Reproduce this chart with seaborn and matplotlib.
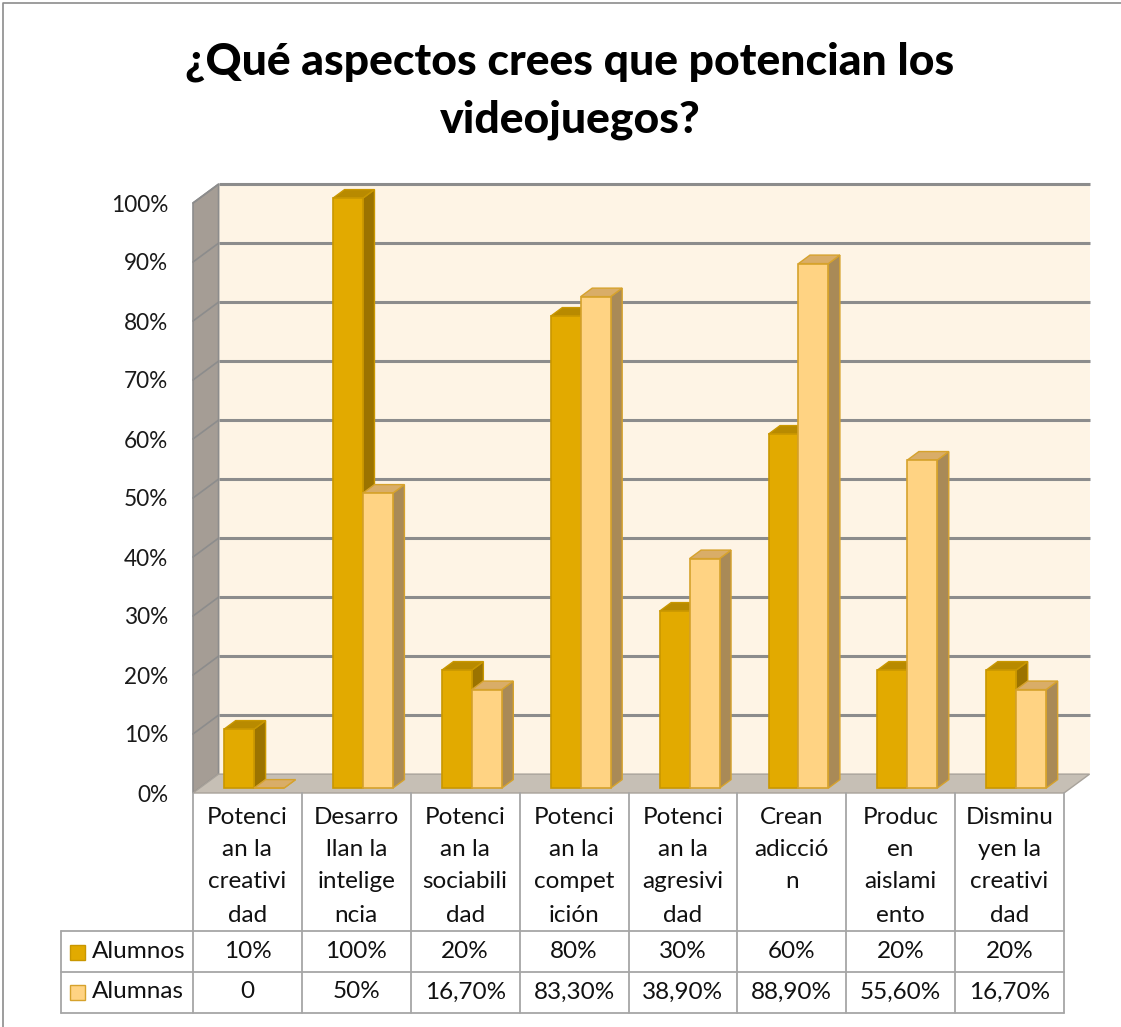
import numpy as np
import pandas as pd
import matplotlib
matplotlib.use("Agg")
import matplotlib.pyplot as plt
from matplotlib.patches import Polygon, Rectangle
import seaborn as sns

# data
categorias = ["Potencian la creatividad", "Desarrollan la inteligencia",
              "Potencian la sociabilidad", "Potencian la competición",
              "Potencian la agresividad", "Crean adicción",
              "Producen aislamiento", "Disminuyen la creatividad"]
# labels as wrapped in the data table
cat_lineas = [["Potenci", "an la", "creativi", "dad"],
              ["Desarro", "llan la", "intelige", "ncia"],
              ["Potenci", "an la", "sociabili", "dad"],
              ["Potenci", "an la", "compet", "ición"],
              ["Potenci", "an la", "agresivi", "dad"],
              ["Crean", "adicció", "n"],
              ["Produc", "en", "aislami", "ento"],
              ["Disminu", "yen la", "creativi", "dad"]]
alumnos = [10, 100, 20, 80, 30, 60, 20, 20]
alumnas = [0, 50, 16.7, 83.3, 38.9, 88.9, 55.6, 16.7]
alumnos_txt = ["10%", "100%", "20%", "80%", "30%", "60%", "20%", "20%"]
alumnas_txt = ["0", "50%", "16,70%", "83,30%", "38,90%", "88,90%", "55,60%", "16,70%"]
series = ["Alumnos", "Alumnas"]
yticks = [0, 10, 20, 30, 40, 50, 60, 70, 80, 90, 100]

df = pd.DataFrame({
    "cat": categorias * 2,
    "serie": ["Alumnos"] * 8 + ["Alumnas"] * 8,
    "valor": [v / 100 for v in alumnos + alumnas],
})

# colours (front, side, top)
col_front = {"Alumnos": "#E2AA00", "Alumnas": "#FFD383"}
col_side = {"Alumnos": "#9B7300", "Alumnas": "#A98A57"}
col_top = {"Alumnos": "#B88A00", "Alumnas": "#D9AD68"}
col_edge = {"Alumnos": "#C99700", "Alumnas": "#D6A22C"}

sns.set_style("white")
plt.rcParams["font.family"] = ["Lato", "DejaVu Sans"]

W, H = 1121, 1027
fig = plt.figure(figsize=(W / 100, H / 100), dpi=100)
fig.patch.set_facecolor("white")

# main axes in pixel placement
L, R, B, T = 193, 1064, 793, 203
ax = fig.add_axes([L / W, (H - B) / H, (R - L) / W, (B - T) / H])
ax.patch.set_alpha(0)

sns.barplot(data=df, x="cat", y="valor", hue="serie", hue_order=series,
            palette=col_front, saturation=1, width=0.55, dodge=True, legend=False,
            edgecolor="none", linewidth=0, ax=ax, zorder=3)
ax.set_xlim(-0.5, 7.5)
ax.set_ylim(0, 1)

# pseudo 3d depth
DX, DY = 0.235, 0.032
f0, f1 = 0.26, 0.45  # front offset and bar depth fractions

# walls and floor
ax.add_patch(Polygon([(-0.5 + DX, DY), (7.5 + DX, DY), (7.5 + DX, 1 + DY), (-0.5 + DX, 1 + DY)],
                     closed=True, facecolor="#FEF4E5", edgecolor="none", zorder=0.5, clip_on=False))
ax.add_patch(Polygon([(-0.5, 0), (-0.5 + DX, DY), (-0.5 + DX, 1 + DY), (-0.5, 1.0)],
                     closed=True, facecolor="#A59D95", edgecolor="#8C8C8C", lw=1.2, zorder=0.8, clip_on=False))
ax.add_patch(Polygon([(-0.5, 0), (7.5, 0), (7.5 + DX, DY), (-0.5 + DX, DY)],
                     closed=True, facecolor="#C6BFB5", edgecolor="#A8A29A", lw=1.0, zorder=0.9, clip_on=False))
for t in yticks[1:]:
    y = t / 100
    ax.plot([-0.5 + DX, 7.5 + DX], [y + DY, y + DY], color="#8C8C8C", lw=2.2, zorder=0.6,
            clip_on=False, solid_capstyle="butt")
    ax.plot([-0.5, -0.5 + DX], [y, y + DY], color="#8C8C8C", lw=1.2, zorder=0.85, clip_on=False)

# turn flat bars into 3d columns
for k, cont in enumerate(ax.containers):
    s = series[k]
    for p in cont.patches:
        x0 = p.get_x() + f0 * DX
        y0 = f0 * DY
        w = p.get_width()
        h = p.get_height()
        p.set_x(x0)
        p.set_y(y0)
        p.set_edgecolor(col_edge[s])
        p.set_linewidth(1.2)
        p.set_zorder(3 + k)
        p.set_clip_on(False)
        bx, by = f1 * DX, f1 * DY
        side = [(x0 + w, y0), (x0 + w + bx, y0 + by), (x0 + w + bx, y0 + h + by), (x0 + w, y0 + h)]
        top = [(x0, y0 + h), (x0 + w, y0 + h), (x0 + w + bx, y0 + h + by), (x0 + bx, y0 + h + by)]
        ax.add_patch(Polygon(side, closed=True, facecolor=col_side[s], edgecolor=col_edge[s],
                             lw=1.0, zorder=3 + k - 0.1, clip_on=False))
        ax.add_patch(Polygon(top, closed=True, facecolor=col_top[s], edgecolor=col_edge[s],
                             lw=1.0, zorder=3 + k - 0.1, clip_on=False))

ax.set_yticks([t / 100 for t in yticks])
ax.set_yticklabels([f"{t}%" for t in yticks], fontsize=16.3, color="#1a1a1a")
ax.tick_params(axis="y", length=0, pad=18)
ax.set_xticks([])
ax.set_xlabel("")
ax.set_ylabel("")
sns.despine(ax=ax, left=True, bottom=True)

# overlay axes in pixels for title, table and frame
ov = fig.add_axes([0, 0, 1, 1])
ov.set_xlim(0, W)
ov.set_ylim(H, 0)
ov.axis("off")
ov.patch.set_alpha(0)

ov.text(570, 62, "¿Qué aspectos crees que potencian los", ha="center", va="center",
        fontsize=32, fontweight=900, color="black")
ov.text(570, 120, "videojuegos?", ha="center", va="center", fontsize=32, fontweight=900, color="black")

# outer chart frame (top and left visible)
ov.plot([3, 3, W + 5], [H + 5, 3, 3], color="#8C8C8C", lw=1.2)

# data table
gc = "#A6A6A6"
colw = (R - L) / 8
xs = [L + i * colw for i in range(9)]
row_y = [931, 972, 1013]
for x in xs:
    ov.plot([x, x], [B, row_y[-1]], color=gc, lw=1.3)
ov.plot([61, 61], [row_y[0], row_y[-1]], color=gc, lw=1.3)
for y in row_y:
    ov.plot([61, R], [y, y], color=gc, lw=1.3)

fs = 17.5
line_y = [817, 850, 882, 915]
for i, lines in enumerate(cat_lineas):
    cx = (xs[i] + xs[i + 1]) / 2
    for j, ln in enumerate(lines):
        ov.text(cx, line_y[j], ln, ha="center", va="center", fontsize=fs, color="#111111")
for i in range(8):
    cx = (xs[i] + xs[i + 1]) / 2
    ov.text(cx, 952, alumnos_txt[i], ha="center", va="center", fontsize=fs, color="#111111")
    ov.text(cx, 992, alumnas_txt[i], ha="center", va="center", fontsize=fs, color="#111111")

for s, yc in zip(series, [952, 992]):
    ov.add_patch(Rectangle((70, yc - 7.5), 15, 15, facecolor=col_front[s], edgecolor=col_edge[s], lw=1.0))
    ov.text(92, yc, s, ha="left", va="center", fontsize=fs, color="#111111")

fig.savefig("out.png", dpi=100)
